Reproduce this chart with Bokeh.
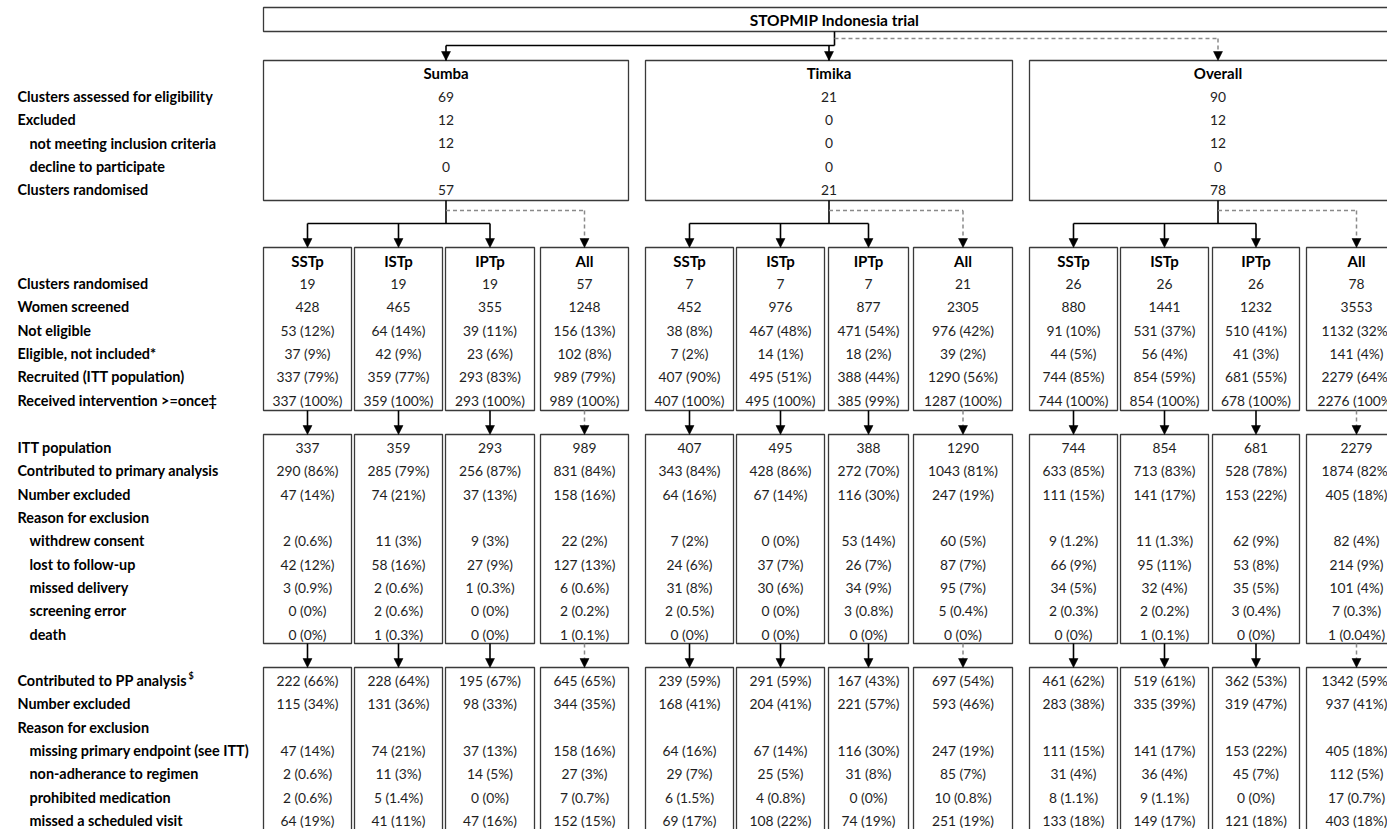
from bokeh.plotting import figure
from bokeh.models import Range1d, ColumnDataSource
from bokeh.core.properties import value
from bokeh.embed import file_html
from bokeh.resources import INLINE

# ---------------- data ----------------
title_text = "STOPMIP Indonesia trial"
sites = ["Sumba", "Timika", "Overall"]
arms = ["SSTp", "ISTp", "IPTp", "All"]

site_labels = ["Clusters assessed for eligibility", "Excluded",
               "not meeting inclusion criteria", "decline to participate",
               "Clusters randomised"]
site_indent = [False, False, True, True, False]
site_values = {
    "Sumba": ["69", "12", "12", "0", "57"],
    "Timika": ["21", "0", "0", "0", "21"],
    "Overall": ["90", "12", "12", "0", "78"],
}

arm_labels = ["Clusters randomised", "Women screened", "Not eligible",
              "Eligible, not included*", "Recruited (ITT population)",
              "Received intervention >=once\u2021"]
arm_values = {
    "Sumba": {
        "SSTp": ["19", "428", "53 (12%)", "37 (9%)", "337 (79%)", "337 (100%)"],
        "ISTp": ["19", "465", "64 (14%)", "42 (9%)", "359 (77%)", "359 (100%)"],
        "IPTp": ["19", "355", "39 (11%)", "23 (6%)", "293 (83%)", "293 (100%)"],
        "All": ["57", "1248", "156 (13%)", "102 (8%)", "989 (79%)", "989 (100%)"],
    },
    "Timika": {
        "SSTp": ["7", "452", "38 (8%)", "7 (2%)", "407 (90%)", "407 (100%)"],
        "ISTp": ["7", "976", "467 (48%)", "14 (1%)", "495 (51%)", "495 (100%)"],
        "IPTp": ["7", "877", "471 (54%)", "18 (2%)", "388 (44%)", "385 (99%)"],
        "All": ["21", "2305", "976 (42%)", "39 (2%)", "1290 (56%)", "1287 (100%)"],
    },
    "Overall": {
        "SSTp": ["26", "880", "91 (10%)", "44 (5%)", "744 (85%)", "744 (100%)"],
        "ISTp": ["26", "1441", "531 (37%)", "56 (4%)", "854 (59%)", "854 (100%)"],
        "IPTp": ["26", "1232", "510 (41%)", "41 (3%)", "681 (55%)", "678 (100%)"],
        "All": ["78", "3553", "1132 (32%)", "141 (4%)", "2279 (64%)", "2276 (100%)"],
    },
}

itt_labels = ["ITT population", "Contributed to primary analysis", "Number excluded",
              "Reason for exclusion", "withdrew consent", "lost to follow-up",
              "missed delivery", "screening error", "death"]
itt_indent = [False, False, False, False, True, True, True, True, True]
itt_values = {
    "Sumba": {
        "SSTp": ["337", "290 (86%)", "47 (14%)", "", "2 (0.6%)", "42 (12%)", "3 (0.9%)", "0 (0%)", "0 (0%)"],
        "ISTp": ["359", "285 (79%)", "74 (21%)", "", "11 (3%)", "58 (16%)", "2 (0.6%)", "2 (0.6%)", "1 (0.3%)"],
        "IPTp": ["293", "256 (87%)", "37 (13%)", "", "9 (3%)", "27 (9%)", "1 (0.3%)", "0 (0%)", "0 (0%)"],
        "All": ["989", "831 (84%)", "158 (16%)", "", "22 (2%)", "127 (13%)", "6 (0.6%)", "2 (0.2%)", "1 (0.1%)"],
    },
    "Timika": {
        "SSTp": ["407", "343 (84%)", "64 (16%)", "", "7 (2%)", "24 (6%)", "31 (8%)", "2 (0.5%)", "0 (0%)"],
        "ISTp": ["495", "428 (86%)", "67 (14%)", "", "0 (0%)", "37 (7%)", "30 (6%)", "0 (0%)", "0 (0%)"],
        "IPTp": ["388", "272 (70%)", "116 (30%)", "", "53 (14%)", "26 (7%)", "34 (9%)", "3 (0.8%)", "0 (0%)"],
        "All": ["1290", "1043 (81%)", "247 (19%)", "", "60 (5%)", "87 (7%)", "95 (7%)", "5 (0.4%)", "0 (0%)"],
    },
    "Overall": {
        "SSTp": ["744", "633 (85%)", "111 (15%)", "", "9 (1.2%)", "66 (9%)", "34 (5%)", "2 (0.3%)", "0 (0%)"],
        "ISTp": ["854", "713 (83%)", "141 (17%)", "", "11 (1.3%)", "95 (11%)", "32 (4%)", "2 (0.2%)", "1 (0.1%)"],
        "IPTp": ["681", "528 (78%)", "153 (22%)", "", "62 (9%)", "53 (8%)", "35 (5%)", "3 (0.4%)", "0 (0%)"],
        "All": ["2279", "1874 (82%)", "405 (18%)", "", "82 (4%)", "214 (9%)", "101 (4%)", "7 (0.3%)", "1 (0.04%)"],
    },
}

pp_labels = ["Contributed to PP analysis", "Number excluded", "Reason for exclusion",
             "missing primary endpoint (see ITT)", "non-adherance to regimen",
             "prohibited medication", "missed a scheduled visit"]
pp_indent = [False, False, False, True, True, True, True]
pp_label_sup = "$"
pp_values = {
    "Sumba": {
        "SSTp": ["222 (66%)", "115 (34%)", "", "47 (14%)", "2 (0.6%)", "2 (0.6%)", "64 (19%)"],
        "ISTp": ["228 (64%)", "131 (36%)", "", "74 (21%)", "11 (3%)", "5 (1.4%)", "41 (11%)"],
        "IPTp": ["195 (67%)", "98 (33%)", "", "37 (13%)", "14 (5%)", "0 (0%)", "47 (16%)"],
        "All": ["645 (65%)", "344 (35%)", "", "158 (16%)", "27 (3%)", "7 (0.7%)", "152 (15%)"],
    },
    "Timika": {
        "SSTp": ["239 (59%)", "168 (41%)", "", "64 (16%)", "29 (7%)", "6 (1.5%)", "69 (17%)"],
        "ISTp": ["291 (59%)", "204 (41%)", "", "67 (14%)", "25 (5%)", "4 (0.8%)", "108 (22%)"],
        "IPTp": ["167 (43%)", "221 (57%)", "", "116 (30%)", "31 (8%)", "0 (0%)", "74 (19%)"],
        "All": ["697 (54%)", "593 (46%)", "", "247 (19%)", "85 (7%)", "10 (0.8%)", "251 (19%)"],
    },
    "Overall": {
        "SSTp": ["461 (62%)", "283 (38%)", "", "111 (15%)", "31 (4%)", "8 (1.1%)", "133 (18%)"],
        "ISTp": ["519 (61%)", "335 (39%)", "", "141 (17%)", "36 (4%)", "9 (1.1%)", "149 (17%)"],
        "IPTp": ["362 (53%)", "319 (47%)", "", "153 (22%)", "45 (7%)", "0 (0%)", "121 (18%)"],
        "All": ["1342 (59%)", "937 (41%)", "", "405 (18%)", "112 (5%)", "17 (0.7%)", "403 (18%)"],
    },
}

# ---------------- layout (pixel space) ----------------
W, H = 1387, 829
FONT = "Lato"
FS_LABEL = "14.4px"
FS_VAL = "13.8px"
FS_HEAD = "15px"
FS_TITLE = "15.5px"
BOX_COL = "#3a3a3a"
TXT_COL = "#1e1e1e"
DASH_COL = "#8a8a8a"

TITLE_BOX = (263, 1406, 7, 31)
SITE_X = {"Sumba": (263, 628), "Timika": (645, 1012), "Overall": (1029, 1406)}
ARM_X = {
    "Sumba": [(263, 351), (354, 442), (445, 534), (540, 628)],
    "Timika": [(645, 733), (736, 824), (828, 908), (913, 1012)],
    "Overall": [(1029, 1117), (1120, 1208), (1212, 1299), (1306, 1406)],
}
SITE_Y = (60, 200)
ARM_Y = (247, 410)
ITT_Y = (434, 643)
PP_Y = (667, 860)
STEP = 23.35
LABEL_X, INDENT_X = 17, 29

p = figure(width=W, height=H, x_range=Range1d(0, W), y_range=Range1d(H, 0),
           output_backend="svg", toolbar_location=None, min_border=0,
           x_axis_location=None, y_axis_location=None)
p.grid.visible = False
p.outline_line_color = None
p.background_fill_color = "white"
p.border_fill_color = "white"

# boxes
bl, br, bt, bb = [], [], [], []
def add_box(x0, x1, y0, y1):
    bl.append(x0); br.append(x1); bt.append(y0); bb.append(y1)

add_box(*TITLE_BOX)
for s in sites:
    add_box(SITE_X[s][0], SITE_X[s][1], *SITE_Y)
    for (x0, x1) in ARM_X[s]:
        add_box(x0, x1, *ARM_Y)
        add_box(x0, x1, *ITT_Y)
        add_box(x0, x1, *PP_Y)
p.quad(left=bl, right=br, top=bt, bottom=bb, fill_alpha=0,
       line_color=BOX_COL, line_width=1.3)

# connectors
solid = dict(x0=[], y0=[], x1=[], y1=[])
dashed = dict(x0=[], y0=[], x1=[], y1=[])
heads_x, heads_y = [], []

def seg(d, x0, y0, x1, y1):
    d["x0"].append(x0); d["y0"].append(y0); d["x1"].append(x1); d["y1"].append(y1)

def head(x, ytip):
    heads_x.append([x - 4.5, x + 4.5, x]); heads_y.append([ytip - 9, ytip - 9, ytip])

centers = {s: (SITE_X[s][0] + SITE_X[s][1]) / 2 for s in sites}
tc = 834
seg(solid, tc, TITLE_BOX[3], tc, 45)
seg(solid, centers["Sumba"], 45, tc, 45)
seg(solid, centers["Sumba"], 45, centers["Sumba"], SITE_Y[0]); head(centers["Sumba"], SITE_Y[0])
seg(solid, centers["Timika"], 45, centers["Timika"], SITE_Y[0]); head(centers["Timika"], SITE_Y[0])
seg(dashed, tc, 38, centers["Overall"], 38)
seg(dashed, centers["Overall"], 38, centers["Overall"], SITE_Y[0] - 8); head(centers["Overall"], SITE_Y[0])

for s in sites:
    c = centers[s]
    ac = [(a + b) / 2 for a, b in ARM_X[s]]
    seg(solid, c, SITE_Y[1], c, 223)
    seg(solid, ac[0], 223, ac[2], 223)
    for i in range(3):
        seg(solid, ac[i], 223, ac[i], ARM_Y[0] - 8); head(ac[i], ARM_Y[0])
    seg(dashed, c, 210, ac[3], 210)
    seg(dashed, ac[3], 210, ac[3], ARM_Y[0] - 8); head(ac[3], ARM_Y[0])
    for i in range(4):
        d = dashed if i == 3 else solid
        seg(d, ac[i], ARM_Y[1], ac[i], ITT_Y[0] - 8); head(ac[i], ITT_Y[0])
        seg(d, ac[i], ITT_Y[1], ac[i], PP_Y[0] - 8); head(ac[i], PP_Y[0])

p.segment(x0="x0", y0="y0", x1="x1", y1="y1", source=ColumnDataSource(solid),
          line_color="black", line_width=1.6)
p.segment(x0="x0", y0="y0", x1="x1", y1="y1", source=ColumnDataSource(dashed),
          line_color=DASH_COL, line_width=1.5, line_dash="4 3")
p.patches(xs=heads_x, ys=heads_y, fill_color="black", line_color="black", line_width=0.5)

# texts
def txt(xs, ys, ts, bold=False, size=FS_VAL, align="center", color=TXT_COL):
    p.text(x=xs, y=ys, text=ts, text_font=value(FONT), text_font_size=size,
           text_font_style="bold" if bold else "normal", text_align=align,
           text_baseline="middle", text_color=color)

txt([tc], [19], [title_text], bold=True, size=FS_TITLE, color="black")

def labels(lbls, indents, y0):
    xs = [INDENT_X if ind else LABEL_X for ind in indents]
    ys = [y0 + i * STEP for i in range(len(lbls))]
    txt(xs, ys, lbls, bold=True, size=FS_LABEL, align="left", color="black")

labels(site_labels, site_indent, 96)
labels(arm_labels, [False] * len(arm_labels), 283)
labels(itt_labels, itt_indent, 447)
labels(pp_labels, pp_indent, 680)
txt([188], [675], [pp_label_sup], bold=True, size="9px", align="left", color="black")

hx, hy, ht, vx, vy, vt = [], [], [], [], [], []
for s in sites:
    c = centers[s]
    hx.append(c); hy.append(72); ht.append(s)
    for i, v in enumerate(site_values[s]):
        vx.append(c); vy.append(96 + i * STEP); vt.append(v)
    for j, a in enumerate(arms):
        x0, x1 = ARM_X[s][j]
        ax = (x0 + x1) / 2
        hx.append(ax); hy.append(260); ht.append(a)
        for i, v in enumerate(arm_values[s][a]):
            vx.append(ax); vy.append(283 + i * STEP); vt.append(v)
        for i, v in enumerate(itt_values[s][a]):
            vx.append(ax); vy.append(447 + i * STEP); vt.append(v)
        for i, v in enumerate(pp_values[s][a]):
            vx.append(ax); vy.append(680 + i * STEP); vt.append(v)

txt(hx, hy, ht, bold=True, size=FS_HEAD, color="black")
txt(vx, vy, vt, size=FS_VAL)

open("out.html", "w").write(file_html(p, INLINE))
